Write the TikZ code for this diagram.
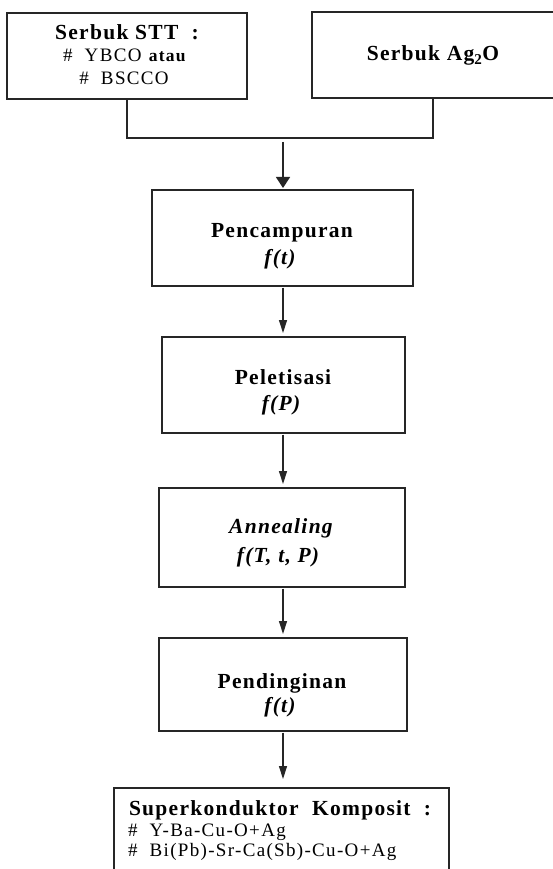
\documentclass[tikz,border=0pt]{standalone}
\usepackage{fontspec}
\setmainfont{Liberation Serif}
\newfontfamily\headfont{Liberation Serif}[LetterSpace=6]
\newfontfamily\itemfont{Liberation Serif}[LetterSpace=7]
\usetikzlibrary{arrows.meta}

\tikzset{
  box/.style={draw=black!85, line width=1.3pt, rectangle, inner sep=0pt, outer sep=0pt},
  lbl/.style={inner sep=0pt, outer sep=0pt, anchor=base, text=black},
  lblL/.style={inner sep=0pt, outer sep=0pt, anchor=base west, text=black},
  link/.style={draw=black!85, line width=1.3pt},
  flow/.style={link, -{Triangle[width=8pt,length=13pt]}, shorten >=4pt, shorten <=1.5pt},
  flowwide/.style={link, -{Triangle[width=14pt,length=11pt]}, shorten >=2pt, shorten <=4pt},
  ttl/.style={font=\headfont\fontsize{21.5}{25}\selectfont\bfseries},
  sub/.style={font=\itemfont\fontsize{19}{22}\selectfont},
  fn/.style={font=\headfont\fontsize{21.5}{25}\selectfont\bfseries\itshape},
}

\begin{document}
\begin{tikzpicture}[x=1pt, y=-1pt]
  \clip (0,0) rectangle (553,869);
  \fill[white] (0,0) rectangle (553,869);

  % starting materials
  \node[box, minimum width=240pt, minimum height=86pt] (b1) at (127,56) {};
  \node[box, minimum width=242pt, minimum height=86pt] (b2) at (433,55) {};
  \node[lbl, ttl] (t1a) at (127,40) {Serbuk STT\ \ :};
  \node[lbl, sub] (t1b) at (125,62) {\#\ \ YBCO \textbf{\fontsize{17.5}{20}\selectfont atau}};
  \node[lbl, sub] (t1c) at (124,85) {\#\ \ BSCCO};
  \node[lbl, ttl] (t2a) at (433,61) {Serbuk Ag\textsubscript{2}O};

  % process steps
  \node[box, minimum width=261pt, minimum height=96pt] (b3) at (282.5,238) {};
  \node[lbl, ttl] (t3a) at (282,237) {Pencampuran};
  \node[lbl, fn] (t3b) at (280,264) {f(t)};

  \node[box, minimum width=243pt, minimum height=96pt] (b4) at (283.5,385) {};
  \node[lbl, ttl] (t4a) at (283,384) {Peletisasi};
  \node[lbl, fn] (t4b) at (281,410) {f(P)};

  \node[box, minimum width=246pt, minimum height=99pt] (b5) at (282,537.5) {};
  \node[lbl, fn] (t5a) at (281,533) {Annealing};
  \node[lbl, fn] (t5b) at (278,562) {f(T, t, P)};

  \node[box, minimum width=248pt, minimum height=93pt] (b6) at (283,684.5) {};
  \node[lbl, ttl] (t6a) at (282,688) {Pendinginan};
  \node[lbl, fn] (t6b) at (280,712) {f(t)};

  % result
  \node[box, minimum width=335pt, minimum height=112pt] (b7) at (281.5,844) {};
  \node[lblL, ttl] (t7a) at (129,815) {Superkonduktor\ \ Komposit\ \ :};
  \node[lblL, sub] (t7b) at (128,836) {\#\ \ Y-Ba-Cu-O+Ag};
  \node[lblL, sub] (t7c) at (128,856) {\#\ \ Bi(Pb)-Sr-Ca(Sb)-Cu-O+Ag};

  % merging connector
  \coordinate (jl) at (127,138);
  \coordinate (jr) at (433,138);
  \coordinate (jm) at (283,138);
  \draw[link] (b1.south) -- (jl) -- (jr) -- (b2.south);
  \draw[flowwide] (jm) -- (jm |- b3.north);

  % flow between steps
  \draw[flow] (b3.south -| jm) -- (jm |- b4.north);
  \draw[flow] (b4.south -| jm) -- (jm |- b5.north);
  \draw[flow] (b5.south -| jm) -- (jm |- b6.north);
  \draw[flow, shorten >=9pt] (b6.south -| jm) -- (jm |- b7.north);
\end{tikzpicture}
\end{document}
